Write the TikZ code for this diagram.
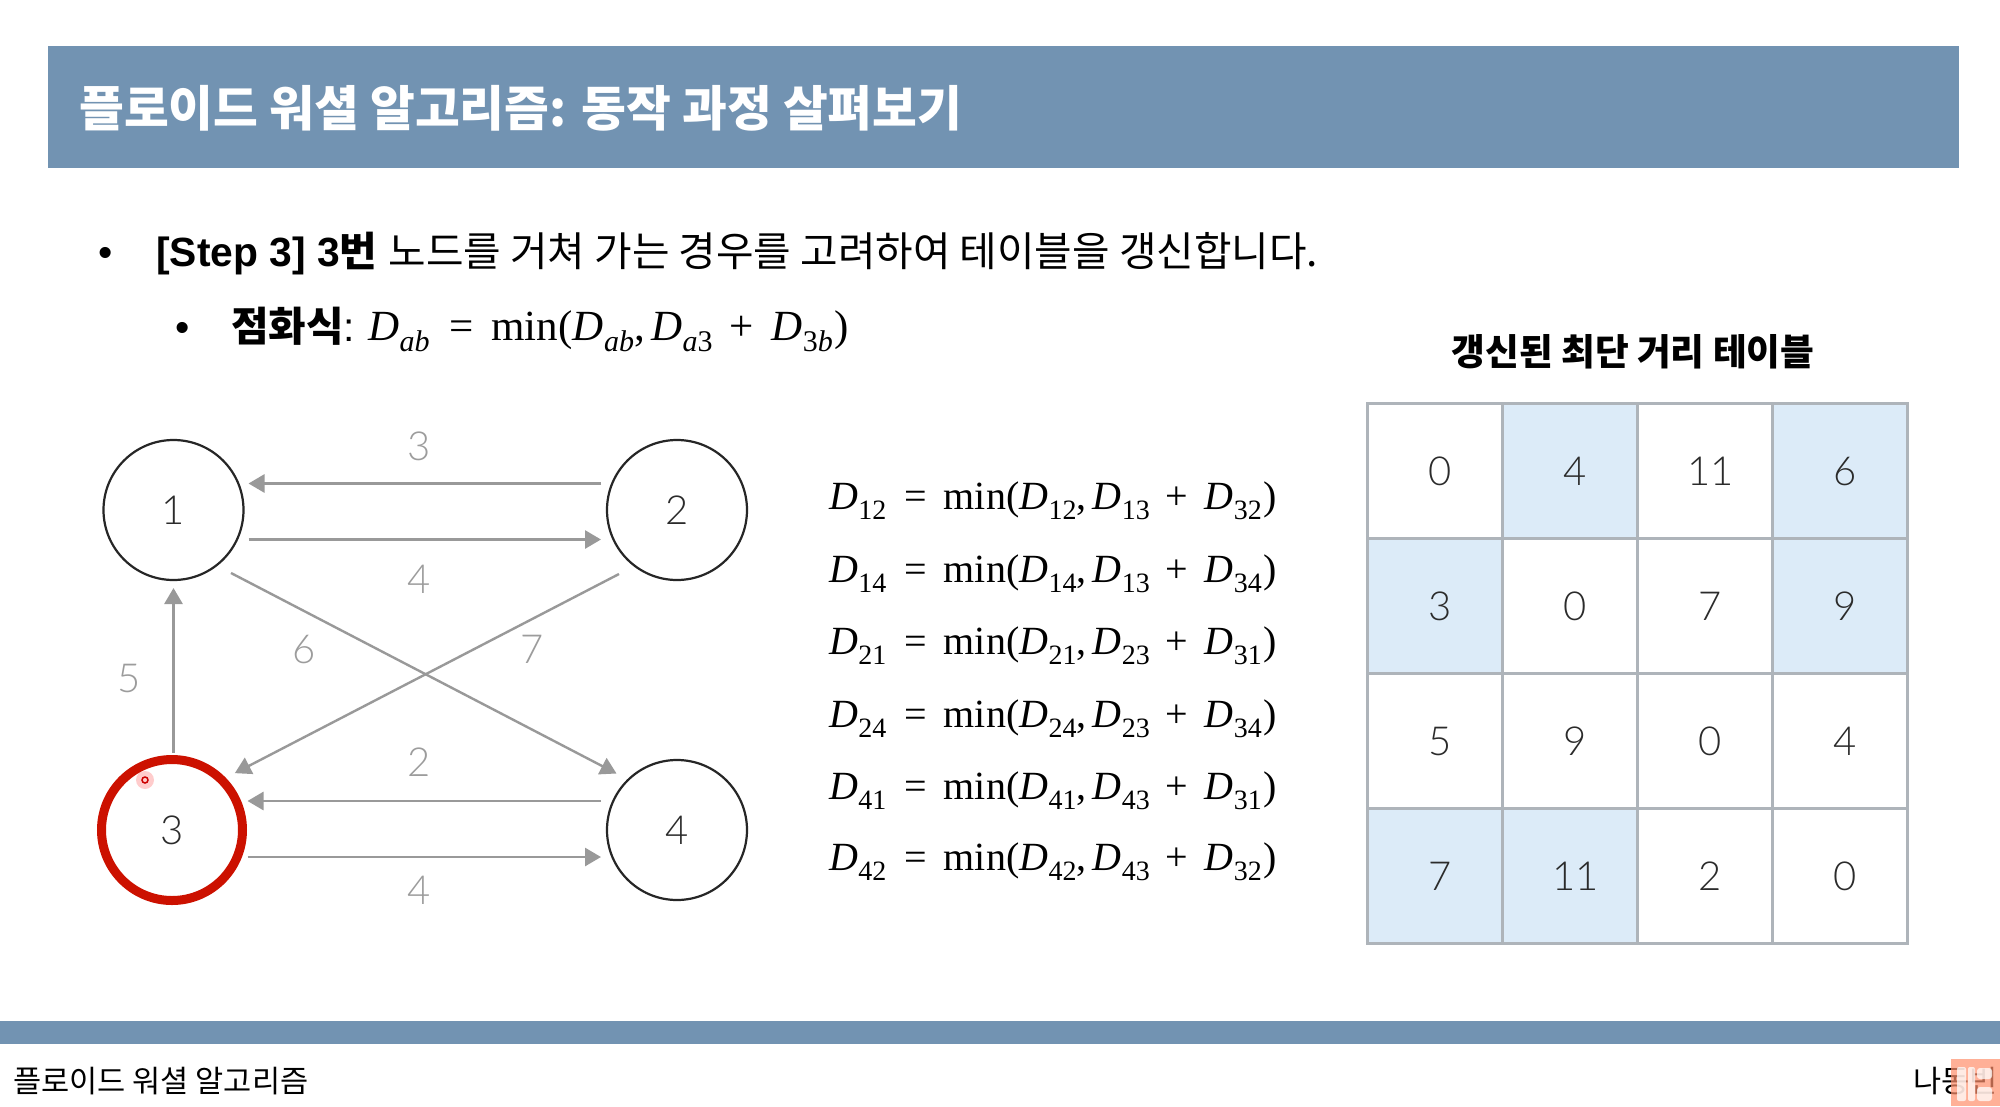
\documentclass[tikz,border=0pt]{standalone}
\usepackage{fontspec}
\setmainfont{Liberation Sans}
\newfontfamily\kr{Noto Sans CJK KR}
\newfontfamily\thinf{Lato Light}
\newfontfamily\mf{Liberation Serif}
\usetikzlibrary{arrows.meta,calc}
\definecolor{barblue}{HTML}{7293B2}
\definecolor{edgegray}{HTML}{999999}
\definecolor{labelgray}{HTML}{9C9C9C}
\definecolor{inkdark}{HTML}{2B2B2B}
\definecolor{ringred}{HTML}{CC1100}
\definecolor{cellblue}{HTML}{DCEBF8}
\definecolor{gridgray}{HTML}{AEB4BA}
\definecolor{markorange}{HTML}{FF8F6B}
\newcommand{\DD}[1]{{\itshape D}\kern.01em\raisebox{-.26em}{\fontsize{\subsize}{\subsize}\selectfont #1}}
\newcommand{\Eqs}[4]{\DD{#1}\kern.45em=\kern.42em min(\DD{#2},\kern.15em\DD{#3}\kern.4em+\kern.4em\DD{#4}\kern.04em)}
\tikzset{
  graphnode/.style={circle,draw=black!85,line width=2.2pt,minimum size=140pt,inner sep=0pt,outer sep=0pt,text=inkdark,font=\thinf\fontsize{40}{40}\selectfont},
  edgeline/.style={draw=edgegray,line width=2.8pt,-{Triangle[length=16pt,width=18pt]}},
  edgelabel/.style={text=labelgray,font=\thinf\fontsize{40}{40}\selectfont,inner sep=0pt},
  cellbox/.style={draw=gridgray,line width=3pt,minimum size=135pt,inner sep=0pt,outer sep=0pt},
  celltext/.style={text=inkdark,font=\thinf\fontsize{40}{40}\selectfont,inner sep=0pt},
  eqn/.style={anchor=base west,inner sep=0pt,font=\mf\fontsize{40}{40}\selectfont\def\subsize{28}},
  eqtop/.style={anchor=base west,inner sep=0pt,font=\mf\fontsize{43}{43}\selectfont\def\subsize{30}},
  bodytext/.style={anchor=base west,inner sep=0pt,font=\fontsize{40.8}{41}\selectfont}
}
\begin{document}
\begin{tikzpicture}[x=1pt,y=-1pt]
\useasboundingbox (0,0) rectangle (2000,1106);
\fill[white] (0,0) rectangle (2000,1106);
% bars
\fill[barblue] (48,46) rectangle (1959,168);
\fill[barblue] (0,1021) rectangle (2000,1044);
\node[anchor=base west,inner sep=0pt,text=white,font=\kr\bfseries\fontsize{48.7}{49}\selectfont] (title) at (79,126) {플로이드 워셜 알고리즘: 동작 과정 살펴보기};
% text
\node[bodytext] (b1) at (98,266) {•};
\node[bodytext] (t1) at (156,266) {\bfseries [Step 3] 3{\kr 번} \mdseries\kr 노드를 거쳐 가는 경우를 고려하여 테이블을 갱신합니다.};
\node[bodytext] (b2) at (175,341) {•};
\node[bodytext] (t2) at (231,341) {{\kr\bfseries 점화식}:};
\node[eqtop] (f0) at (368,340) {\Eqs{\itshape ab}{\itshape ab}{{\itshape a}3}{3{\itshape b}}};
\node[anchor=base,inner sep=0pt,font=\kr\bfseries\fontsize{36.7}{37}\selectfont] (ttl) at (1633,365) {갱신된 최단 거리 테이블};
% graph
\node[graphnode] (n1) at (173.5,510) {1};
\node[graphnode] (n2) at (677,510) {2};
\node[graphnode,draw=ringred,line width=9pt,minimum size=141pt] (n3) at (172,830) {3};
\node[graphnode] (n4) at (677,830) {4};
\draw[edgeline] ([shift={(-6pt,26.5pt)}]n2.west) -- ([shift={(5pt,26.5pt)}]n1.east);
\draw[edgeline] ([shift={(5pt,-29.5pt)}]n1.east) -- ([shift={(-6pt,-29.5pt)}]n2.west);
\draw[edgeline] ([shift={(-6pt,29pt)}]n4.west) -- ([shift={(5pt,29pt)}]n3.east);
\draw[edgeline] ([shift={(5pt,-27pt)}]n3.east) -- ([shift={(-6pt,-27pt)}]n4.west);
\draw[edgeline] ([shift={(1.5pt,7pt)}]n3.north) -- ([yshift=-8pt]n1.south);
\draw[edgeline,line width=2.4pt] ([shift={(8pt,-13.5pt)}]n1.south east) -- ([shift={(-11pt,7pt)}]n4.north west);
\draw[edgeline,line width=2.4pt] ([shift={(-8.5pt,-14.5pt)}]n2.south west) -- ([shift={(13pt,7pt)}]n3.north east);
\node[edgelabel] (l1) at (419,446) {3};
\node[edgelabel] (l2) at (419,579) {4};
\node[edgelabel] (l3) at (304,649) {6};
\node[edgelabel] (l4) at (532,649) {7};
\node[edgelabel] (l5) at (129,678) {5};
\node[edgelabel] (l6) at (419,762) {2};
\node[edgelabel] (l7) at (419,890) {4};
% equations
\node[eqn] (e1) at (829,509) {\Eqs{12}{12}{13}{32}};
\node[eqn] (e2) at (829,582) {\Eqs{14}{14}{13}{34}};
\node[eqn] (e3) at (829,654) {\Eqs{21}{21}{23}{31}};
\node[eqn] (e4) at (829,727) {\Eqs{24}{24}{23}{34}};
\node[eqn] (e5) at (829,799) {\Eqs{41}{41}{43}{31}};
\node[eqn] (e6) at (829,870) {\Eqs{42}{42}{43}{32}};
% table
\foreach \r/\rowvals in {0/{0/0/0,1/4/1,2/11/0,3/6/1},1/{0/3/1,1/0/0,2/7/0,3/9/1},2/{0/5/0,1/9/0,2/0/0,3/4/0},3/{0/7/1,1/11/1,2/2/0,3/0/0}}{
  \foreach \c/\v/\h in \rowvals {
    \pgfmathsetmacro{\xx}{1434.5+135*\c}
    \pgfmathsetmacro{\yy}{470.5+135*\r}
    \ifnum\h=1
      \node[cellbox,fill=cellblue] (c\r\c) at (\xx,\yy) {};
    \else
      \node[cellbox] (c\r\c) at (\xx,\yy) {};
    \fi
    \node[celltext] (v\r\c) at (\xx+6,\yy+1) {\v};
  }
}
% footer
\node[anchor=base west,inner sep=0pt,font=\kr\fontsize{30.6}{31}\selectfont] (ft) at (13,1092) {플로이드 워셜 알고리즘};
\node[anchor=base west,inner sep=0pt,font=\kr\fontsize{30.6}{31}\selectfont] (fr) at (1913,1092) {나동빈};
\fill[markorange,opacity=.7] (1951,1059) rectangle (2000,1106);
\fill[white,opacity=.75,rounded corners=2pt] (1957,1067) rectangle (1966,1101);
\fill[white,opacity=.75,rounded corners=2pt] (1968,1067) rectangle (1975,1101);
\fill[white,opacity=.75,rounded corners=3pt] (1977,1068) rectangle (1992,1079);
\fill[white,opacity=.75,rounded corners=3pt] (1977,1087) rectangle (1992,1101);
% cursor
\fill[red,opacity=.2] (145,780) circle (9pt);
\draw[red!80!black,line width=1.5pt] (145,780) circle (3pt);
\end{tikzpicture}
\end{document}
